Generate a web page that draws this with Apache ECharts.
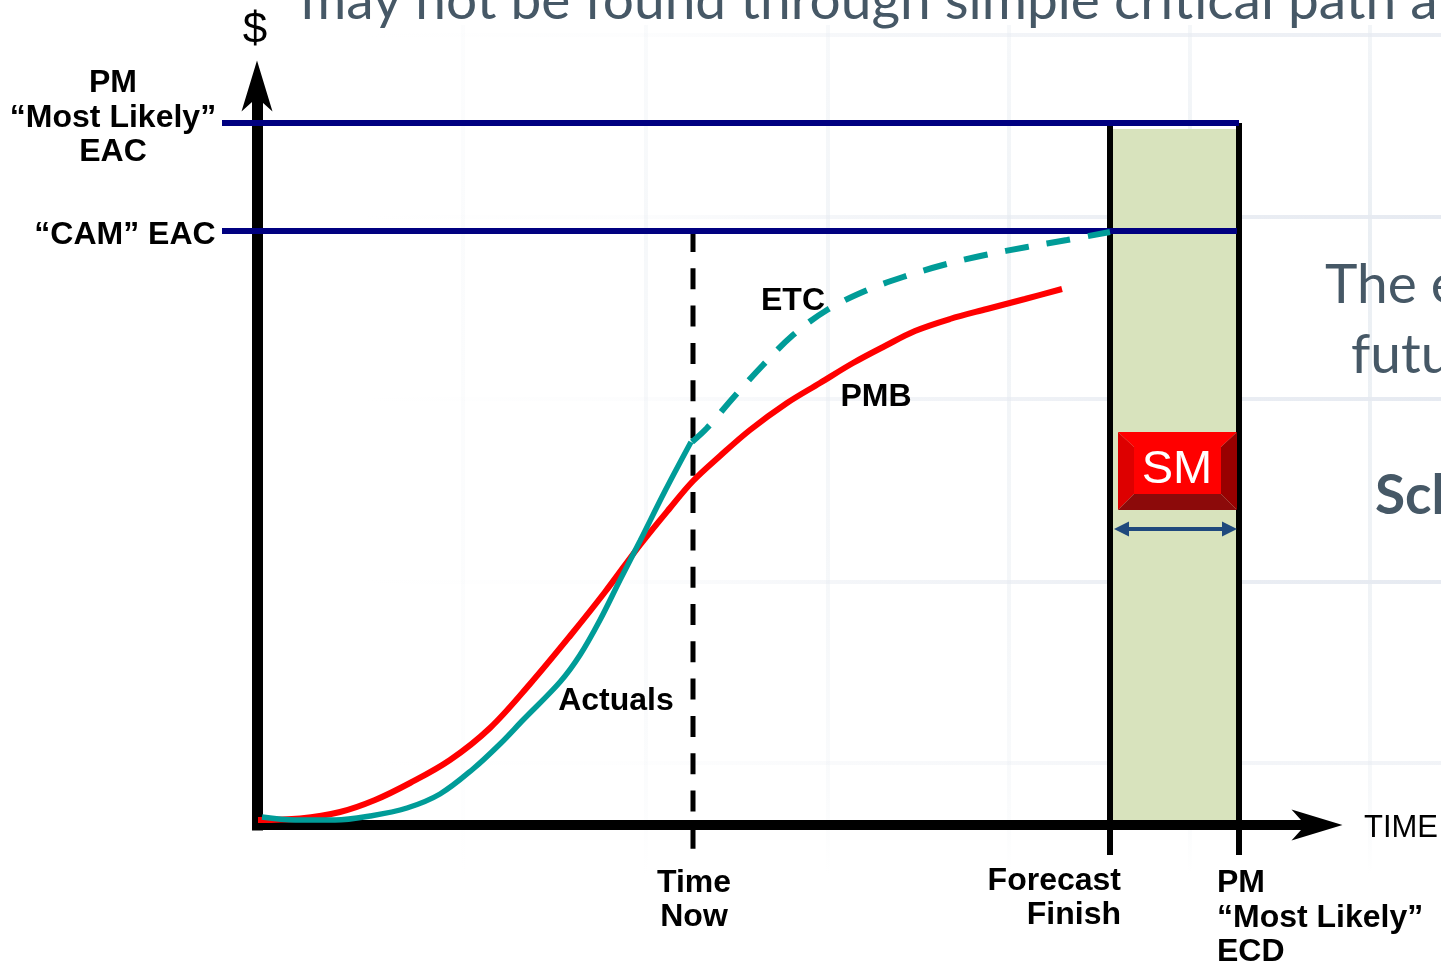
<!DOCTYPE html>
<html><head><meta charset="utf-8">
<style>html,body{margin:0;padding:0;background:#fff}#c{width:1441px;height:963px}</style>
<script src="https://cdn.jsdelivr.net/npm/echarts@6/dist/echarts.min.js"></script>
</head><body><div id="c"></div>
<script>
// Values in chart units: time since start, dollars (both)
const actualsTime  = [4,37,77,112,149,182,215,242,265,302,322,342,362,382,407,433];
const actualsCost  = [8,5,5,9,17,31,56,81,105,143,170,205,245,284,334,383];
const etcTime      = [434,449,475,505,535,569,607,645,685,727,769,809,852];
const etcCost      = [383,397,427,460,490,515,534,548,560,570,578,585,593];
const pmbTime      = [0,42,82,117,152,192,232,272,312,347,382,412,435,462,492,529,562,595,627,657,692,729,767,804];
const pmbCost      = [5,6.5,13,25,42,65,97,141,189,233,280,317,344,369,395,422,442,462,479,494,506,516,526,536];
const camEacCost   = 594;
const pmEacCost    = 702;
const timeNow      = 435;
const forecastFinish = 852;
const pmLikelyEcd  = 981;
const eacLineStart = -36;
const bandStart    = 855;
const bandEnd      = 979;
const bandTop      = 696;
const tickFloor    = -30;
const smX = [860,876,963,979];      // outer left, inner left, inner right, outer right
const smY = [315,331,378,393];      // outer bottom, inner bottom, inner top, outer top
const spanArrow = {from:863.5,to:971.5,at:296};

// Texts of the chart: [text, time, dollars, align, size, weight]
const annotations = [
 ['PM\n“Most Likely”\nEAC', -145, 707, 'center', 32, 'bold'],
 ['“CAM” EAC', -133, 590, 'center', 32, 'bold'],
 ['ETC', 535, 524, 'center', 32, 'bold'],
 ['PMB', 618, 428, 'center', 32, 'bold'],
 ['Actuals', 358, 124, 'center', 32, 'bold'],
 ['Time\nNow', 436, -75, 'center', 32, 'bold'],
 ['Forecast\nFinish', 863, -73, 'right', 32, 'bold'],
 ['PM\n“Most Likely”\nECD', 959, -93, 'left', 32, 'bold'],
 ['$', -3, 794, 'center', 44, 'normal'],
 ['TIME', 1106, -3, 'left', 31, 'normal'],
 ['SM', 919, 355, 'center', 47, 'normal']
];
// The slide behind the chart
const slideTexts = [
 ['may not be found through simple critical path analysis', 301, 29, 'normal'],
 ['The effect', 1325, 313, 'normal'],
 ['future', 1351, 383, 'normal'],
 ['Schedule', 1375, 524, 'bold']
];
const slideVertical = [463,646,828,1009,1190,1370];
const slideVerticalAlpha = [0.2,0.4,0.55,0.65,0.75,0.9];
const slideHorizontal = [35,217,399,582,763];
const slideHorizontalAlpha = [0.8,1,1,1,0.55];

const zip = (a,b)=>a.map((v,i)=>[v,b[i]]);
const chart = echarts.init(document.getElementById('c'),null,{renderer:'canvas'});
const font = 'Liberation Sans';

const bg = [];
slideVertical.forEach((x,i)=>{const a=slideVerticalAlpha[i];
 const c=k=>'rgba(232,237,242,'+(a*k)+')';
 bg.push({type:'rect',z:-10,silent:true,shape:{x:x-2,y:25,width:4,height:850},
  style:{fill:new echarts.graphic.LinearGradient(0,0,0,1,[{offset:0,color:c(0.6)},{offset:0.25,color:c(1)},{offset:0.7,color:c(0.7)},{offset:0.9,color:c(0.4)},{offset:1,color:c(0)}])}});});
slideHorizontal.forEach((y,i)=>{const a=slideHorizontalAlpha[i];
 const c=k=>'rgba(230,234,241,'+(a*k)+')';
 bg.push({type:'rect',z:-10,silent:true,shape:{x:360,y:y-2,width:1081,height:4},
  style:{fill:new echarts.graphic.LinearGradient(0,0,1,0,[{offset:0,color:c(0)},{offset:0.25,color:c(0.1)},{offset:0.45,color:c(0.45)},{offset:0.75,color:c(0.8)},{offset:1,color:c(1)}])}});});
slideTexts.forEach(t=>bg.push({type:'text',z:-5,silent:true,x:t[1],y:t[2],
  style:{text:t[0],fill:'#465866',font:t[3]+' 55px Lato',verticalAlign:'bottom'}}));

const solid=(name,data,color,width,z,extra)=>Object.assign({type:'line',name,data,z,clip:false,symbol:'none',silent:true,
  lineStyle:{color,width,cap:'butt'}},extra||{});
const arrowHead='path://M15.5 0 L31 51 L15.5 37 L0 51 Z';

chart.setOption({
 animation:false,
 backgroundColor:'#fff',
 graphic:{elements:bg},
 grid:{left:258,right:124,top:86,bottom:138,containLabel:false},
 xAxis:{type:'value',min:0,max:1059,z:3,splitLine:{show:false},axisTick:{show:false},axisLabel:{show:false},
   axisLine:{show:true,onZero:false,symbol:['none',arrowHead],symbolSize:[31,51],
     lineStyle:{color:'#000',width:10,cap:'square'}}},
 yAxis:{type:'value',min:0,max:739,z:3,offset:1,splitLine:{show:false},axisTick:{show:false},axisLabel:{show:false},
   axisLine:{show:true,onZero:false,symbol:['none',arrowHead],symbolSize:[31,51],
     lineStyle:{color:'#000',width:11,cap:'square'}}},
 series:[
  {type:'custom',name:'SM band',z:1,silent:true,clip:false,data:[[bandStart,bandEnd,bandTop]],
   renderItem:(p,api)=>{
     const a=api.coord([api.value(0),api.value(2)]),b=api.coord([api.value(1),0]);
     return {type:'rect',shape:{x:a[0],y:a[1],width:b[0]-a[0],height:b[1]-a[1]},style:{fill:'#d8e3bd'}};
   }},
  solid('Forecast Finish',[[forecastFinish,tickFloor],[forecastFinish,pmEacCost]],'#000',6,2),
  solid('PM Most Likely ECD',[[pmLikelyEcd,tickFloor],[pmLikelyEcd,pmEacCost]],'#000',6,2),
  solid('Time Now',[[timeNow,594],[timeNow,-25]],'#000',5,2,{lineStyle:{color:'#000',width:5,type:[21,16.3],cap:'butt'}}),
  {type:'custom',name:'EAC lines',z:4,silent:true,clip:false,
   data:[[eacLineStart,pmLikelyEcd,pmEacCost],[eacLineStart,pmLikelyEcd-2,camEacCost]],
   renderItem:(p,api)=>{
     const a=api.coord([api.value(0),api.value(2)]),b=api.coord([api.value(1),api.value(2)]);
     return {type:'line',shape:{x1:a[0],y1:a[1],x2:b[0],y2:b[1]},style:{stroke:'#000080',lineWidth:6,fill:null}};
   }},
  solid('PMB',zip(pmbTime,pmbCost),'#ff0000',6,5,{smooth:0.35}),
  solid('Actuals',zip(actualsTime,actualsCost),'#009c98',5.5,6,{smooth:0.35}),
  solid('ETC',zip(etcTime,etcCost),'#009c98',6,6,{smooth:0.35,lineStyle:{color:'#009c98',width:6,type:[24,18],cap:'butt'}}),
  {type:'custom',name:'SM',z:7,silent:true,clip:false,data:[[0]],
   renderItem:(p,api)=>{
     const P=(i,j)=>api.coord([smX[i],smY[j]]);
     const poly=(pts,fill)=>({type:'polygon',shape:{points:pts},style:{fill}});
     return {type:'group',children:[
       poly([P(0,3),P(3,3),P(2,2),P(1,2)],'#ff0000'),
       poly([P(0,3),P(1,2),P(1,1),P(0,0)],'#dd0000'),
       poly([P(3,3),P(2,2),P(2,1),P(3,0)],'#990000'),
       poly([P(0,0),P(1,1),P(2,1),P(3,0)],'#8c0a0a'),
       poly([P(1,2),P(2,2),P(2,1),P(1,1)],'#ff0000')
     ]};
   }},
  {type:'line',name:'SM span',z:7,data:[],silent:true,clip:false,symbol:'none',
   markLine:{silent:true,animation:false,symbol:['triangle','triangle'],symbolSize:15,label:{show:false},
     lineStyle:{color:'#1f497d',width:4,type:'solid'},emphasis:{disabled:true},
     data:[[{coord:[spanArrow.from,spanArrow.at]},{coord:[spanArrow.to,spanArrow.at]}]]}},
  {type:'scatter',name:'Text',z:9,silent:true,clip:false,symbolSize:0,itemStyle:{opacity:1},
   data:annotations.map(t=>({value:[t[1],t[2]],label:{show:true,position:'inside',formatter:t[0],align:t[3],verticalAlign:'middle',
     fontFamily:font,fontSize:t[4],fontWeight:t[5],lineHeight:34.5,color:t[0]==='SM'?'#fff':'#000'}}))}
 ]
});
</script></body></html>
